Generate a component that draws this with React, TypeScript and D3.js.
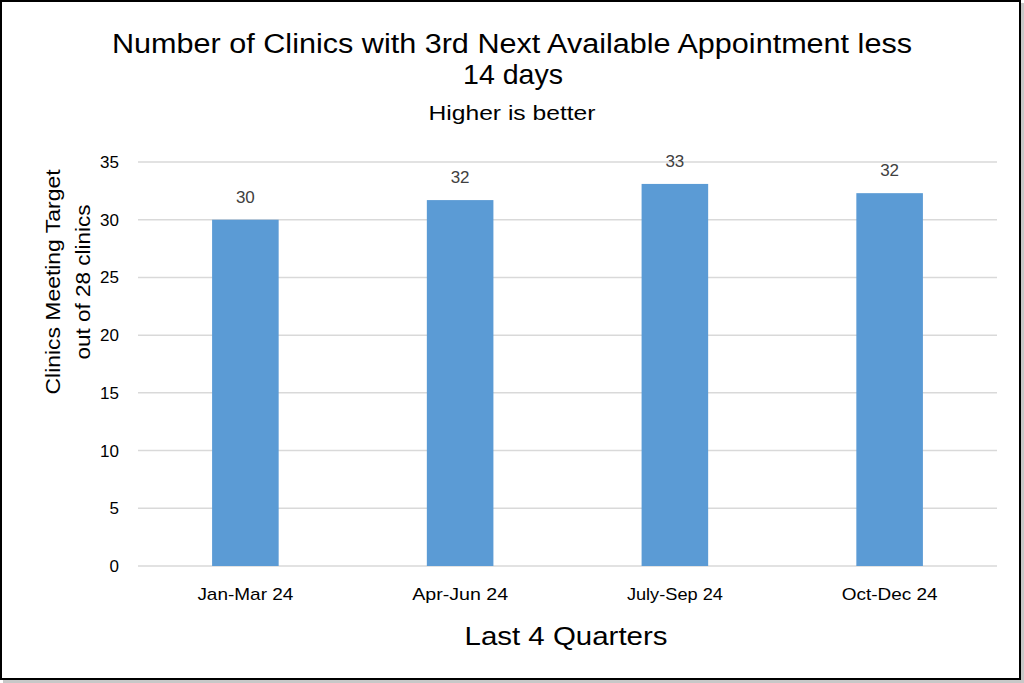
import React from "react";
import * as d3 from "d3";

const categories = ["Jan-Mar 24", "Apr-Jun 24", "July-Sep 24", "Oct-Dec 24"];
const values = [30, 31.7, 33.1, 32.3];
const labels = ["30", "32", "33", "32"];
const yTicks = [0, 5, 10, 15, 20, 25, 30, 35];

const W = 1024;
const H = 683;
const FONT = "'Liberation Sans', Arial, sans-serif";

export default function App() {
  const plotLeft = 138;
  const plotRight = 997;
  const plotTop = 162;
  const plotBottom = 566;

  const x = d3
    .scaleBand<string>()
    .domain(categories)
    .range([plotLeft, plotRight])
    .paddingInner(0.69)
    .paddingOuter(0.345);
  const y = d3.scaleLinear().domain([0, 35]).range([plotBottom, plotTop]);

  return (
    <svg
      width={W}
      height={H}
      style={{ position: "absolute", left: 0, top: 0, background: "#fff" }}
      fontFamily={FONT}
    >
      <rect x={0} y={0} width={W} height={H} fill="#fff" />
      {/* shadow */}
      <rect x={1021} y={3} width={3} height={680} fill="#c8c8c8" />
      <rect x={3} y={680} width={1021} height={3} fill="#c8c8c8" />
      <rect x={1} y={1} width={1019} height={678} fill="#fff" stroke="#000" strokeWidth={2} />

      {/* title */}
      <text x={512} y={53} textAnchor="middle" fontSize={27} fill="#000" textLength={800} lengthAdjust="spacingAndGlyphs">
        Number of Clinics with 3rd Next Available Appointment less
      </text>
      <text x={513} y={84} textAnchor="middle" fontSize={28} fill="#000" textLength={100} lengthAdjust="spacingAndGlyphs">
        14 days
      </text>
      <text x={512} y={120} textAnchor="middle" fontSize={20} fill="#000" textLength={167} lengthAdjust="spacingAndGlyphs">
        Higher is better
      </text>

      {/* gridlines */}
      {yTicks.map((t) => (
        <line key={t} x1={plotLeft} x2={plotRight} y1={y(t)} y2={y(t)} stroke="#d9d9d9" strokeWidth={1.5} />
      ))}
      {yTicks.map((t) => (
        <text key={"l" + t} x={119} y={y(t) + 6} textAnchor="end" fontSize={17} fill="#000">
          {t}
        </text>
      ))}

      {/* bars */}
      {categories.map((c, i) => (
        <rect key={c} x={x(c)} y={y(values[i])} width={x.bandwidth()} height={plotBottom - y(values[i])} fill="#5b9bd5" />
      ))}
      {categories.map((c, i) => (
        <text
          key={"v" + c}
          x={(x(c) as number) + x.bandwidth() / 2}
          y={y(values[i]) - 17}
          textAnchor="middle"
          fontSize={17}
          fill="#404040"
        >
          {labels[i]}
        </text>
      ))}

      {/* x labels */}
      {categories.map((c) => (
        <text key={"x" + c} x={(x(c) as number) + x.bandwidth() / 2} y={600} textAnchor="middle" fontSize={17} fill="#000" textLength={96} lengthAdjust="spacingAndGlyphs">
          {c}
        </text>
      ))}

      {/* axis titles */}
      <text x={566} y={645} textAnchor="middle" fontSize={25} fill="#000" textLength={203} lengthAdjust="spacingAndGlyphs">
        Last 4 Quarters
      </text>
      <g transform="translate(0,282) rotate(-90)">
        <text x={0} y={60} textAnchor="middle" fontSize={20} fill="#000" textLength={225} lengthAdjust="spacingAndGlyphs">
          Clinics Meeting Target
        </text>
        <text x={0} y={90} textAnchor="middle" fontSize={20} fill="#000" textLength={155} lengthAdjust="spacingAndGlyphs">
          out of 28 clinics
        </text>
      </g>
    </svg>
  );
}
